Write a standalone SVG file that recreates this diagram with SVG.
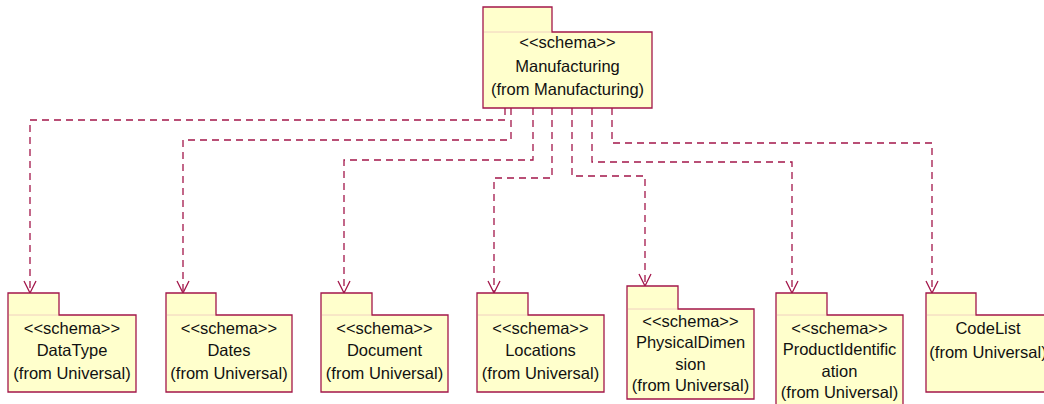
<svg xmlns="http://www.w3.org/2000/svg" width="1044" height="404" viewBox="0 0 1044 404">
<style>
.pk{fill:#FFFFCC;stroke:#A3164A;stroke-width:1.3}
.sep{stroke:#F0D0C0;stroke-width:1}
.t{font-family:"Liberation Sans",Arial,sans-serif;font-size:16.5px;fill:#111;text-anchor:middle}
.c{fill:none;stroke:#A3164A;stroke-width:1.3;stroke-dasharray:7,5}
</style>
<defs>
<marker id="arr" viewBox="-13 -7 14 14" refX="0" refY="0" markerWidth="14" markerHeight="14" markerUnits="userSpaceOnUse" orient="auto">
<path d="M-12,-6 L0,0 L-12,6" fill="none" stroke="#A3164A" stroke-width="1.3"/>
</marker>
</defs>
<rect width="1044" height="404" fill="#fff"/>
<g id="connectors">
<path class="c" marker-end="url(#arr)" d="M505,108 V120 H30 V293"/>
<path class="c" marker-end="url(#arr)" d="M511,108 V140 H183 V293"/>
<path class="c" marker-end="url(#arr)" d="M533,108 V160 H344 V293"/>
<path class="c" marker-end="url(#arr)" d="M552,108 V178 H494 V293"/>
<path class="c" marker-end="url(#arr)" d="M572,108 V176 H645 V286"/>
<path class="c" marker-end="url(#arr)" d="M592,108 V162 H792 V293"/>
<path class="c" marker-end="url(#arr)" d="M612,108 V143 H932 V293"/>
</g>
<g id="Manufacturing">
<path class="pk" d="M483,7 H552 V32 H652 V108 H483 Z"/>
<line class="sep" x1="484" y1="32" x2="551" y2="32"/>
<text class="t" x="567.5" y="48">&lt;&lt;schema&gt;&gt;</text>
<text class="t" x="567.5" y="72">Manufacturing</text>
<text class="t" x="567.5" y="95">(from Manufacturing)</text>
</g>
<g id="DataType">
<path class="pk" d="M8,293 H59 V315 H136 V392 H8 Z"/>
<line class="sep" x1="9" y1="315" x2="58" y2="315"/>
<text class="t" x="72" y="334">&lt;&lt;schema&gt;&gt;</text>
<text class="t" x="72" y="356">DataType</text>
<text class="t" x="72" y="379">(from Universal)</text>
</g>
<g id="Dates">
<path class="pk" d="M166,293 H216 V315 H292 V392 H166 Z"/>
<line class="sep" x1="167" y1="315" x2="215" y2="315"/>
<text class="t" x="229" y="334">&lt;&lt;schema&gt;&gt;</text>
<text class="t" x="229" y="356">Dates</text>
<text class="t" x="229" y="379">(from Universal)</text>
</g>
<g id="Document">
<path class="pk" d="M321,293 H372 V315 H448 V392 H321 Z"/>
<line class="sep" x1="322" y1="315" x2="371" y2="315"/>
<text class="t" x="384.5" y="334">&lt;&lt;schema&gt;&gt;</text>
<text class="t" x="384.5" y="356">Document</text>
<text class="t" x="384.5" y="379">(from Universal)</text>
</g>
<g id="Locations">
<path class="pk" d="M477,293 H528 V315 H604 V392 H477 Z"/>
<line class="sep" x1="478" y1="315" x2="527" y2="315"/>
<text class="t" x="540.5" y="334">&lt;&lt;schema&gt;&gt;</text>
<text class="t" x="540.5" y="356">Locations</text>
<text class="t" x="540.5" y="379">(from Universal)</text>
</g>
<g id="PhysicalDimension">
<path class="pk" d="M627,286 H678 V309 H754 V399 H627 Z"/>
<line class="sep" x1="628" y1="309" x2="677" y2="309"/>
<text class="t" x="690.5" y="327">&lt;&lt;schema&gt;&gt;</text>
<text class="t" x="690.5" y="348">PhysicalDimen</text>
<text class="t" x="690.5" y="370">sion</text>
<text class="t" x="690.5" y="391">(from Universal)</text>
</g>
<g id="ProductIdentification">
<path class="pk" d="M776,293 H827 V315 H903 V410 H776 Z"/>
<line class="sep" x1="777" y1="315" x2="826" y2="315"/>
<text class="t" x="839.5" y="334">&lt;&lt;schema&gt;&gt;</text>
<text class="t" x="839.5" y="355">ProductIdentific</text>
<text class="t" x="839.5" y="377">ation</text>
<text class="t" x="839.5" y="398">(from Universal)</text>
</g>
<g id="CodeList">
<path class="pk" d="M926,293 H976 V315 H1052 V392 H926 Z"/>
<line class="sep" x1="927" y1="315" x2="975" y2="315"/>
<text class="t" x="988" y="334">CodeList</text>
<text class="t" x="988" y="358">(from Universal)</text>
</g>
</svg>
